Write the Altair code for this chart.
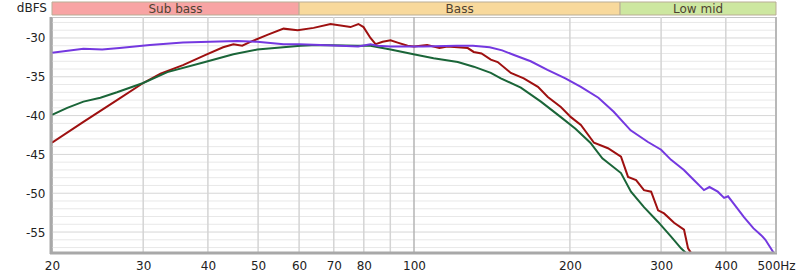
import altair as alt
import pandas as pd

FONT = "DejaVu Sans"

# ---- series (frequency in Hz, level in dBFS) ----
red_hz = [20, 23, 26.7, 30, 32.4, 35.8, 39.5, 42.8, 44.8, 46.6, 48.3, 52.1, 56, 59.6, 64, 69,
          75.4, 78.1, 79.9, 82.4, 84.3, 87, 90.1, 93, 97.2, 100, 106, 112, 116, 121.5, 127,
          130.4, 135, 140.7, 145.1, 153.8, 162.9, 173.5, 181.3, 192.1, 200.9, 210, 222.6,
          236.9, 251, 259, 268.4, 278, 287, 296, 304, 317.8, 332.2, 338.2, 342.8, 347]
red_db = [-43.5, -40.8, -38.0, -35.8, -34.6, -33.5, -32.2, -31.2, -30.8, -31.0, -30.5, -29.6,
          -28.8, -29.0, -28.7, -28.2, -28.6, -28.2, -28.6, -30.0, -30.8, -30.5, -30.3, -30.6,
          -31.0, -31.1, -30.9, -31.3, -31.1, -31.2, -31.3, -31.8, -32.0, -32.8, -33.1, -34.5,
          -35.2, -36.3, -37.6, -38.9, -40.2, -41.2, -43.5, -44.2, -45.3, -47.9, -48.3, -49.6,
          -49.8, -52.2, -52.6, -53.8, -54.7, -57.1, -57.7, -58.8]

green_hz = [20, 21.4, 23, 24.8, 26.7, 30, 33.4, 39.5, 44.8, 49.8, 60.4, 65.1, 77.8, 82.4,
            90.1, 99.8, 109.1, 121.5, 130.4, 140.7, 147.1, 160.8, 175.8, 192.1, 205, 219,
            231, 251, 262.4, 278, 296, 313.6, 327.8, 335.2, 340]
green_db = [-39.9, -39.0, -38.2, -37.7, -37.0, -35.8, -34.4, -33.1, -32.1, -31.5, -31.0,
            -30.9, -31.0, -31.0, -31.5, -32.1, -32.6, -33.1, -33.7, -34.5, -35.2, -36.4,
            -38.2, -40.2, -41.7, -43.5, -45.5, -47.4, -49.8, -51.8, -53.7, -55.6, -57.1,
            -57.7, -58.5]

purple_hz = [20, 23, 25, 27, 30.9, 35.8, 40.4, 45.6, 49.8, 56, 60, 66, 72, 78, 82.4, 85, 90,
             104, 121, 130, 140, 148, 156, 168, 181, 196, 210, 227, 243, 262, 283, 300, 313.6,
             332, 347, 363, 372, 386, 397, 404, 416, 434, 452, 468, 477, 494, 500]
purple_db = [-31.9, -31.4, -31.5, -31.3, -30.9, -30.6, -30.5, -30.4, -30.5, -30.8, -30.8,
             -30.9, -31.0, -31.1, -30.8, -31.0, -31.1, -31.1, -31.0, -31.0, -31.2, -31.6,
             -32.2, -33.0, -34.1, -35.2, -36.3, -37.7, -39.5, -41.9, -43.4, -44.4, -45.7,
             -47.0, -48.3, -49.6, -49.2, -49.8, -50.6, -50.4, -51.5, -53.1, -54.5, -55.4,
             -56.0, -57.6, -58.3]

series_names = ["Red", "Green", "Purple"]
series_colors = ["#9e1010", "#1a6538", "#7438e0"]

# ---- frequency bands ----
band_names = ["Sub bass", "Bass", "Low mid"]
band_lo = [20, 60, 250]
band_hi = [60, 250, 500]
band_mid = [34.64, 122.47, 353.55]
band_fill = ["#f8a4a4", "#f8d99c", "#cde7a0"]

# ---- ticks and grid ----
x_ticks = [20, 30, 40, 50, 60, 70, 80, 100, 200, 300, 400, 500]
x_grid = [30, 40, 50, 60, 70, 80, 90, 200, 300, 400]
x_grid_strong = [100]
y_ticks = [-55, -50, -45, -40, -35, -30]
y_minor = [-57, -56, -54, -53, -52, -51, -49, -48, -47, -46, -44, -43, -42, -41,
           -39, -38, -37, -36, -34, -33, -32, -31, -29, -28]

W, H = 724, 236

frames = []
for name, hz, db in [("Red", red_hz, red_db), ("Green", green_hz, green_db),
                     ("Purple", purple_hz, purple_db)]:
    frames.append(pd.DataFrame({"series": name, "hz": hz, "db": db}))
df = pd.concat(frames, ignore_index=True)

bands = pd.DataFrame({"name": band_names, "lo": band_lo, "hi": band_hi,
                      "mid": band_mid, "fill": band_fill})

xs = alt.Scale(type="log", domain=[20, 500], nice=False)
ys = alt.Scale(domain=[-57.7, -27.3], nice=False, zero=False)

x_axis = alt.Axis(values=x_ticks, title=None,
                  labelExpr="datum.value == 500 ? '500Hz' : datum.label")
y_axis = alt.Axis(values=y_ticks, title=None, labelExpr="'' + datum.value")


def X(field):
    return alt.X(field, type="quantitative", scale=xs, axis=x_axis, title=None)


def Y(field):
    return alt.Y(field, type="quantitative", scale=ys, axis=y_axis, title=None)


one = pd.DataFrame({"k": [0]})

minor = alt.Chart(pd.DataFrame({"y": y_minor})).mark_rule(
    color="#e8e8e8", strokeWidth=1).encode(y=Y("y"))
major = alt.Chart(pd.DataFrame({"y": y_ticks})).mark_rule(
    color="#d6d6d6", strokeWidth=1).encode(y=Y("y"))
vgrid = alt.Chart(pd.DataFrame({"x": x_grid})).mark_rule(
    color="#d4d4d4", strokeWidth=1.5).encode(x=X("x"))
vgrid2 = alt.Chart(pd.DataFrame({"x": x_grid_strong})).mark_rule(
    color="#b4b4b4", strokeWidth=1.5).encode(x=X("x"))

lines = alt.Chart(df).mark_line(strokeWidth=2, clip=True).encode(
    x=X("hz"),
    y=Y("db"),
    color=alt.Color("series:N", scale=alt.Scale(domain=series_names, range=series_colors),
                    legend=None),
)

left_b = alt.Chart(one).mark_rule(color="#a8a8a8", strokeWidth=3).encode(
    x=alt.value(-1), y=alt.value(0), y2=alt.value(H + 1))
bottom_b = alt.Chart(one).mark_rule(color="#a8a8a8", strokeWidth=3).encode(
    x=alt.value(-2), x2=alt.value(W + 1), y=alt.value(H))
right_b = alt.Chart(one).mark_rule(color="#b8b8b8", strokeWidth=2).encode(
    x=alt.value(W), y=alt.value(0), y2=alt.value(H))

band_rect = alt.Chart(bands).mark_rect(stroke="#b9ad95", strokeWidth=1).encode(
    x=X("lo"), x2="hi:Q",
    y=alt.value(-15), y2=alt.value(-2),
    fill=alt.Fill("fill:N", scale=None))
band_text = alt.Chart(bands).mark_text(fontSize=12, font=FONT, color="#4e4232",
                                       baseline="middle").encode(
    x=X("mid"), y=alt.value(-8.5), text="name:N")

unit = alt.Chart(pd.DataFrame({"t": ["dBFS"]})).mark_text(
    fontSize=12, font=FONT, color="#222", align="right", baseline="middle").encode(
    x=alt.value(-5), y=alt.value(-9.5), text="t:N")

chart = alt.layer(minor, major, vgrid, vgrid2, lines, left_b, bottom_b, right_b,
                  band_rect, band_text, unit).properties(
    width=W, height=H,
    padding={"left": 52, "top": 17, "right": 24, "bottom": 24},
    autosize=alt.AutoSizeParams(type="none"),
    background="white",
).configure_view(stroke="#c4c4c4", strokeWidth=1).configure_axis(
    grid=False, ticks=False, domain=False, labelFont=FONT, labelFontSize=12,
    labelColor="#222", labelPadding=7, labelFlush=False, labelOverlap=False
)

chart.save("out.html", embed_options={"renderer": "svg", "actions": False})
